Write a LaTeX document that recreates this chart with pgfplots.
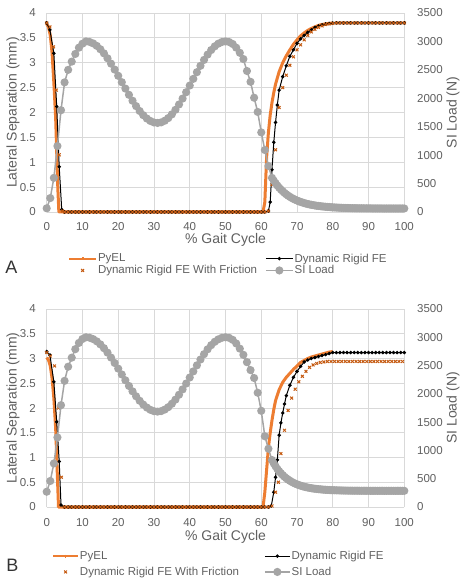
\documentclass[border=0pt]{standalone}
\usepackage{fontspec}
\setmainfont{Liberation Sans}
\usepackage{pgfplots}
\pgfplotsset{compat=1.18}
\definecolor{pyel}{HTML}{ED7D31}
\definecolor{fric}{HTML}{C55A11}
\definecolor{siload}{HTML}{A5A5A5}
\definecolor{gridc}{HTML}{D9D9D9}
\definecolor{txt}{HTML}{606060}
\newcommand{\tfont}{\fontsize{11.5}{13}\selectfont}
\newcommand{\lfont}{\fontsize{14}{16}\selectfont}

\pgfplotsset{
 base/.style={
  scale only axis, width=357.6pt, height=199pt,
  xmin=0, xmax=100, clip=false,
  axis line style={draw=none},
  major tick length=0pt, tick style={draw=none},
  scaled ticks=false,
  /pgf/number format/assume math mode=true,
  /pgf/number format/1000 sep={},
  tick label style={font=\tfont, text=txt, inner sep=0pt},
 },
 leftax/.style={base, ymin=0, ymax=4, ytick={0,0.5,...,4}, xtick={0,10,...,100},
   grid=major, major grid style={gridc, line width=0.75pt},
   xticklabel style={yshift=-10pt}, yticklabel style={xshift=-10.7pt},
   xlabel={\% Gait Cycle}, ylabel={Lateral Separation (mm)},
   every axis x label/.style={at={(axis description cs:0.5,0)}, anchor=center, yshift=-28pt, font=\lfont, text=txt},
   every axis y label/.style={at={(axis description cs:-0.0942,0.5)}, rotate=90, anchor=center, font=\lfont, text=txt},
   legend columns=2,
   legend cell align=left,
 },
 rightax/.style={base, ymin=0, ymax=3500, ytick={0,500,...,3500},
   hide x axis, yticklabel pos=right, yticklabel style={xshift=12.7pt},
   ylabel={SI Load (N)},
   every axis y label/.style={at={(axis description cs:1.1362,0.5)}, rotate=90, anchor=center, font=\lfont, text=txt},
 },
 limgA/.style={legend image code/.code={\draw[mark repeat=2,mark phase=2,##1] plot coordinates {(0pt,0pt) (13.5pt,0pt) (27pt,0pt)};}},
 fimgA/.style={legend image code/.code={\path (0pt,0pt) (27pt,0pt); \draw[##1] plot coordinates {(13.5pt,0pt)};}},
 limgB/.style={legend image code/.code={\draw[mark repeat=2,mark phase=2,##1] plot coordinates {(0pt,0pt) (12.5pt,0pt) (25pt,0pt)};}},
 fimgB/.style={legend image code/.code={\path (0pt,0pt) (25pt,0pt); \draw[##1] plot coordinates {(12.5pt,0pt)};}},
 pyelst/.style={pyel, line width=3pt, line join=round, legend image post style={line width=1.8pt, mark=|, mark size=1.5pt}},
 blackst/.style={black, line width=1pt, mark=*, mark size=1.2pt},
 fricst/.style={fric, only marks, mark=x, mark size=2pt, line width=1pt},
 sist/.style={siload, line width=1.5pt, mark=*, mark size=3.3pt, mark options={fill=siload, draw=siload}},
}

\begin{document}
\begin{tikzpicture}[x=1pt,y=1pt]
\path[use as bounding box] (0,0) rectangle (463,579);

% ---------------- Panel A ----------------
\begin{axis}[leftax, limgA, at={(46.7pt,367pt)}, anchor=south west,
  legend style={at={(0.0596,-0.264)}, anchor=west, draw=none, fill=none, inner sep=0pt,
    font=\tfont, text=txt,
    nodes={inner sep=1pt},
    /tikz/every even column/.append style={column sep=7pt}}]
\addplot[pyelst] coordinates {
(0,3.78)(0.5,3.72)(1,3.55)(1.5,3.2)(2,2.6)(2.5,1.9)(2.8,1.2)(3.1,0.5)(3.4,0)(60.5,0)
(61,0.2)(61.5,1.1)(62,1.6)(62.5,1.95)(63,2.2)(63.5,2.4)(64,2.57)(65,2.82)(66,3.0)(67,3.14)(68,3.26)(69,3.37)(70,3.46)(71,3.54)(72,3.60)(73,3.65)(74,3.69)(75,3.72)(76,3.75)(77,3.77)(78,3.78)(79,3.79)(80,3.80)};
\addlegendentry{PyEL}
\addplot[blackst] coordinates {
(0,3.80)(0.9,3.66)(2.0,3.19)(2.8,2.12)(3.5,0.91)(4.2,0.05)
(5,0)(6,0)(7,0)(8,0)(9,0)(10,0)(11,0)(12,0)(13,0)(14,0)(15,0)(16,0)(17,0)(18,0)(19,0)(20,0)(21,0)(22,0)(23,0)(24,0)(25,0)(26,0)(27,0)(28,0)(29,0)(30,0)(31,0)(32,0)(33,0)(34,0)(35,0)(36,0)(37,0)(38,0)(39,0)(40,0)(41,0)(42,0)(43,0)(44,0)(45,0)(46,0)(47,0)(48,0)(49,0)(50,0)(51,0)(52,0)(53,0)(54,0)(55,0)(56,0)(57,0)(58,0)(59,0)(60,0)(61,0)
(62,0.02)(62.5,0.2)(63,0.85)(63.5,1.4)(64,1.8)(64.5,2.15)(65,2.45)(66,2.72)(67,2.94)(68,3.13)(69,3.26)(70,3.39)(71,3.48)(72,3.55)(73,3.61)(74,3.66)(75,3.71)(76,3.74)(77,3.76)(78,3.78)(79,3.79)
(80,3.80)(81,3.80)(82,3.80)(83,3.80)(84,3.80)(85,3.80)(86,3.80)(87,3.80)(88,3.80)(89,3.80)(90,3.80)(91,3.80)(92,3.80)(93,3.80)(94,3.80)(95,3.80)(96,3.80)(97,3.80)(98,3.80)(99,3.80)(100,3.80)};
\addlegendentry{Dynamic Rigid FE}
\addplot[fricst, fimgA] coordinates {
(0,3.80)(0.9,3.72)(1.9,3.32)(2.7,2.45)(3.5,1.15)(4.4,0.02)
(5,0)(6,0)(7,0)(8,0)(9,0)(10,0)(11,0)(12,0)(13,0)(14,0)(15,0)(16,0)(17,0)(18,0)(19,0)(20,0)(21,0)(22,0)(23,0)(24,0)(25,0)(26,0)(27,0)(28,0)(29,0)(30,0)(31,0)(32,0)(33,0)(34,0)(35,0)(36,0)(37,0)(38,0)(39,0)(40,0)(41,0)(42,0)(43,0)(44,0)(45,0)(46,0)(47,0)(48,0)(49,0)(50,0)(51,0)(52,0)(53,0)(54,0)(55,0)(56,0)(57,0)(58,0)(59,0)(60,0)(61,0)
(62,0.02)(63,0.55)(64,1.25)(65,2.1)(66,2.5)(67,2.75)(68,2.95)(69,3.12)(70,3.26)(71,3.36)(72,3.46)(73,3.55)(74,3.62)(75,3.67)(76,3.71)(77,3.74)(78,3.77)(79,3.78)(80,3.79)
(81,3.80)(82,3.80)(83,3.80)(84,3.80)(85,3.80)(86,3.80)(87,3.80)(88,3.80)(89,3.80)(90,3.80)(91,3.80)(92,3.80)(93,3.80)(94,3.80)(95,3.80)(96,3.80)(97,3.80)(98,3.80)(99,3.80)(100,3.80)};
\addlegendentry{Dynamic Rigid FE With Friction}
\addlegendimage{sist}
\addlegendentry{SI Load}
\end{axis}
\begin{axis}[rightax, at={(46.7pt,367pt)}, anchor=south west]
\addplot[sist] coordinates {
(0,65)(1,245)(2,600)(3,1160)(4,1790)(5,2280)(6,2500)(7,2645)(8,2780)(9,2890)(10,2960)(11,3000)(12,2991)(13,2965)(14,2922)(15,2863)(16,2790)(17,2704)(18,2609)(19,2505)(20,2395)(21,2283)(22,2171)(23,2061)(24,1957)(25,1862)(26,1776)(27,1703)(28,1644)(29,1601)(30,1575)(31,1566)(32,1576)(33,1605)(34,1652)(35,1717)(36,1797)(37,1891)(38,1995)(39,2107)(40,2224)(41,2342)(42,2459)(43,2571)(44,2675)(45,2769)(46,2849)(47,2914)(48,2961)(49,2990)(50,3000)(51,2990)(52,2955)(53,2890)(54,2800)(55,2690)(56,2480)(57,2290)(58,2010)(59,1760)(60,1400)(61,1090)(62,810)(63,600)
(63.5,551)(64,506)(64.5,465)(65,428)(65.5,394)(66,364)(66.5,336)(67,311)(67.5,288)(68,267)(68.5,248)(69,231)(69.5,216)(70,202)(70.5,189)(71,177)(71.5,167)(72,157)(72.5,148)(73,140)(73.5,133)(74,127)(74.5,121)(75,115)(75.5,110)(76,106)(76.5,102)(77,98)(77.5,95)(78,92)(78.5,89)(79,87)(79.5,84)(80,82)(80.5,80)(81,78)(81.5,76)(82,75)(82.5,73)(83,72)(83.5,71)(84,70)(84.5,69)(85,68)(85.5,67)(86,67)(86.5,66)(87,66)(87.5,65)(88,65)(88.5,65)(89,64)(89.5,64)(90,64)(90.5,64)(91,63)(91.5,63)(92,63)(92.5,63)(93,63)(93.5,63)(94,62)(94.5,62)(95,62)(95.5,62)(96,62)(96.5,62)(97,62)(97.5,62)(98,62)(98.5,62)(99,62)(99.5,62)(100,62)};
\end{axis}
\node[font=\fontsize{18}{20}\selectfont, text=black!80] at (11.5,312) {A};

% ---------------- Panel B ----------------
\begin{axis}[leftax, limgB, at={(46.7pt,72pt)}, anchor=south west, height=198pt,
  every axis x label/.append style={yshift=-2pt},
  xticklabel style={yshift=-1pt},
  legend style={at={(0.0148,-0.288)}, anchor=west, draw=none, fill=none, inner sep=0pt,
    font=\tfont, text=txt,
    nodes={inner sep=1pt}, /tikz/row sep=4pt,
    /tikz/every even column/.append style={column sep=24pt}}]
\addplot[pyelst] coordinates {
(0,3.02)(0.5,2.97)(1,2.85)(1.5,2.6)(2,2.2)(2.5,1.6)(2.8,1.0)(3.1,0.4)(3.3,0)(60.5,0)
(61,0.3)(61.5,0.75)(62,1.2)(62.5,1.5)(63,1.75)(63.5,1.97)(64,2.15)(65,2.37)(66,2.52)(67,2.62)(68,2.70)(69,2.78)(70,2.85)(71,2.92)(72,2.96)(73,3.0)(74,3.03)(75,3.05)(76,3.07)(77,3.09)(78,3.11)(79,3.13)(80,3.14)};
\addlegendentry{PyEL}
\addplot[blackst] coordinates {
(0,3.14)(0.9,3.07)(2.0,2.53)(2.8,1.72)(3.5,0.92)(4.0,0.04)
(5,0)(6,0)(7,0)(8,0)(9,0)(10,0)(11,0)(12,0)(13,0)(14,0)(15,0)(16,0)(17,0)(18,0)(19,0)(20,0)(21,0)(22,0)(23,0)(24,0)(25,0)(26,0)(27,0)(28,0)(29,0)(30,0)(31,0)(32,0)(33,0)(34,0)(35,0)(36,0)(37,0)(38,0)(39,0)(40,0)(41,0)(42,0)(43,0)(44,0)(45,0)(46,0)(47,0)(48,0)(49,0)(50,0)(51,0)(52,0)(53,0)(54,0)(55,0)(56,0)(57,0)(58,0)(59,0)(60,0)(61,0)(62,0)
(62.8,0.02)(63.5,0.3)(64,0.6)(64.5,0.95)(65,1.45)(65.5,1.7)(66,1.9)(66.5,2.08)(67,2.25)(68,2.46)(69,2.62)(70,2.74)(71,2.84)(72,2.93)(73,2.97)(74,3.0)(75,3.02)(76,3.04)(77,3.06)(78,3.08)(79,3.10)
(80,3.12)(81,3.12)(82,3.12)(83,3.12)(84,3.12)(85,3.12)(86,3.12)(87,3.12)(88,3.12)(89,3.12)(90,3.12)(91,3.12)(92,3.12)(93,3.12)(94,3.12)(95,3.12)(96,3.12)(97,3.12)(98,3.12)(99,3.12)(100,3.12)};
\addlegendentry{Dynamic Rigid FE}
\addplot[fricst, fimgB] coordinates {
(0,3.12)(1,3.05)(2.2,2.85)(3.3,2.0)(4.1,0.6)
(5,0)(6,0)(7,0)(8,0)(9,0)(10,0)(11,0)(12,0)(13,0)(14,0)(15,0)(16,0)(17,0)(18,0)(19,0)(20,0)(21,0)(22,0)(23,0)(24,0)(25,0)(26,0)(27,0)(28,0)(29,0)(30,0)(31,0)(32,0)(33,0)(34,0)(35,0)(36,0)(37,0)(38,0)(39,0)(40,0)(41,0)(42,0)(43,0)(44,0)(45,0)(46,0)(47,0)(48,0)(49,0)(50,0)(51,0)(52,0)(53,0)(54,0)(55,0)(56,0)(57,0)(58,0)(59,0)(60,0)(61,0)(62,0)
(63,0.02)(64,0.3)(64.8,0.5)(65.5,1.08)(66.5,1.55)(67.5,1.95)(68.5,2.2)(69.5,2.38)(70.5,2.53)(71.5,2.64)(72.5,2.74)(73.5,2.82)(74.5,2.87)(75.5,2.9)(76.5,2.92)(77.5,2.93)(78.5,2.94)
(79.5,2.94)(80.5,2.94)(81.5,2.94)(82.5,2.94)(83.5,2.94)(84.5,2.94)(85.5,2.94)(86.5,2.94)(87.5,2.94)(88.5,2.94)(89.5,2.94)(90.5,2.94)(91.5,2.94)(92.5,2.94)(93.5,2.94)(94.5,2.94)(95.5,2.94)(96.5,2.94)(97.5,2.94)(98.5,2.94)(99.5,2.94)};
\addlegendentry{Dynamic Rigid FE With Friction}
\addlegendimage{sist}
\addlegendentry{SI Load}
\end{axis}
\begin{axis}[rightax, at={(46.7pt,72pt)}, anchor=south west, height=198pt]
\addplot[sist] coordinates {
(0,270)(1,460)(2,770)(3,1230)(4,1800)(5,2230)(6,2480)(7,2640)(8,2790)(9,2900)(10,2970)(11,3000)(12,2992)(13,2968)(14,2928)(15,2875)(16,2808)(17,2729)(18,2641)(19,2546)(20,2446)(21,2343)(22,2240)(23,2140)(24,2045)(25,1957)(26,1878)(27,1811)(28,1758)(29,1718)(30,1694)(31,1686)(32,1695)(33,1722)(34,1765)(35,1825)(36,1898)(37,1984)(38,2079)(39,2182)(40,2289)(41,2397)(42,2504)(43,2607)(44,2702)(45,2788)(46,2861)(47,2921)(48,2964)(49,2991)(50,3000)(51,2990)(52,2955)(53,2890)(54,2800)(55,2690)(56,2560)(57,2420)(58,2280)(59,2020)(60,1700)(61,1250)(62,1030)(63,830)
(63.5,770)(64,719)(64.5,673)(65,633)(65.5,596)(66,564)(66.5,534)(67,508)(67.5,485)(68,464)(68.5,445)(69,428)(69.5,413)(70,400)(70.5,388)(71,377)(71.5,367)(72,359)(72.5,351)(73,344)(73.5,338)(74,332)(74.5,327)(75,323)(75.5,319)(76,315)(76.5,312)(77,309)(77.5,306)(78,304)(78.5,302)(79,300)(79.5,298)(80,297)(80.5,296)(81,295)(81.5,294)(82,293)(82.5,292)(83,291)(83.5,290)(84,290)(84.5,289)(85,289)(85.5,288)(86,288)(86.5,288)(87,288)(87.5,287)(88,287)(88.5,287)(89,287)(89.5,287)(90,287)(90.5,286)(91,286)(91.5,286)(92,286)(92.5,286)(93,286)(93.5,286)(94,286)(94.5,286)(95,286)(95.5,286)(96,286)(96.5,286)(97,286)(97.5,286)(98,286)(98.5,286)(99,286)(99.5,286)(100,286)};
\end{axis}
\node[font=\fontsize{18}{20}\selectfont, text=black!80] at (12.5,14) {B};
\end{tikzpicture}
\end{document}
